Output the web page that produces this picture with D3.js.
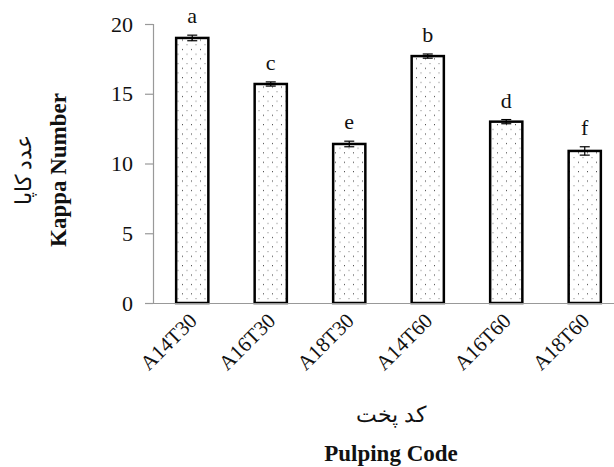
<!DOCTYPE html>
<html><head><meta charset="utf-8">
<script src="https://cdn.jsdelivr.net/npm/d3@7"></script>
<style>body{margin:0;background:#fff}svg{display:block}text{font-family:"Liberation Serif","Times New Roman",serif}</style>
</head><body>
<svg id="c" width="614" height="467"></svg>
<script>
const categories = ["A14T30","A16T30","A18T30","A14T60","A16T60","A18T60"];
const values = [19.0, 15.7, 11.4, 17.7, 13.0, 10.9];
const errors = [0.2, 0.15, 0.2, 0.15, 0.15, 0.3];
const letters = ["a","c","e","b","d","f"];
const yTicks = [0,5,10,15,20];

const svg = d3.select("#c");
const x = d3.scaleBand().domain(categories).range([153, 624]).paddingInner(0.59).paddingOuter(0.295);
const y = d3.scaleLinear().domain([0,20]).range([303, 24]);

const defs = svg.append("defs");
const pat = defs.append("pattern").attr("id","dots").attr("patternUnits","userSpaceOnUse")
  .attr("width",9).attr("height",9.4);
pat.append("rect").attr("width",9).attr("height",9.4).attr("fill","#fff");
pat.append("rect").attr("x",2).attr("y",2).attr("width",1).attr("height",1).attr("fill","#333");
pat.append("rect").attr("x",6.5).attr("y",6.7).attr("width",1).attr("height",1).attr("fill","#777");

// y axis
const yAxis = svg.append("g").attr("transform","translate(153,0)")
  .call(d3.axisLeft(y).tickValues(yTicks).tickSize(8).tickPadding(12));
yAxis.select(".domain").attr("stroke","#999").attr("stroke-width",1.2).attr("d","M-8,24.5H0.5V303.5");
yAxis.selectAll(".tick line").attr("stroke","#999").attr("stroke-width",1.2);
yAxis.selectAll(".tick text").attr("font-size",22).attr("fill","#111");

// bars
svg.append("g").selectAll("rect").data(categories).join("rect")
  .attr("x", d => x(d)).attr("width", x.bandwidth())
  .attr("y", (d,i) => y(values[i])).attr("height", (d,i) => y(0) - y(values[i]))
  .attr("fill","url(#dots)").attr("stroke","#000").attr("stroke-width",2.5);

// x axis line
svg.append("line").attr("x1",153).attr("x2",614).attr("y1",303.5).attr("y2",303.5)
  .attr("stroke","#999").attr("stroke-width",1.2);

// error bars
const eb = svg.append("g").attr("stroke","#000").attr("stroke-width",1.2);
categories.forEach((c,i) => {
  const cx = x(c) + x.bandwidth()/2;
  eb.append("line").attr("x1",cx).attr("x2",cx).attr("y1",y(values[i]+errors[i])).attr("y2",y(values[i]-errors[i]));
  eb.append("line").attr("x1",cx-5).attr("x2",cx+5).attr("y1",y(values[i]+errors[i])).attr("y2",y(values[i]+errors[i]));
  eb.append("line").attr("x1",cx-5).attr("x2",cx+5).attr("y1",y(values[i]-errors[i])).attr("y2",y(values[i]-errors[i]));
});

// letters
svg.append("g").selectAll("text").data(categories).join("text")
  .attr("x", d => x(d) + x.bandwidth()/2)
  .attr("y", (d,i) => y(values[i]+errors[i]) - 12)
  .attr("text-anchor","middle").attr("font-size",22).attr("fill","#111")
  .text((d,i) => letters[i]);

// x tick labels
svg.append("g").selectAll("text").data(categories).join("text")
  .attr("transform", d => `translate(${x(d) + x.bandwidth()/2 + 6},${322}) rotate(-45)`)
  .attr("text-anchor","end").attr("font-size",21).attr("fill","#111")
  .text(d => d);

// axis titles
svg.append("text").attr("x",391).attr("y",422).attr("text-anchor","middle")
  .attr("font-size",22).attr("fill","#111").attr("direction","rtl").text("کد پخت");
svg.append("text").attr("x",391).attr("y",461).attr("text-anchor","middle")
  .attr("font-size",23).attr("font-weight","bold").attr("fill","#111").text("Pulping Code");
svg.append("text").attr("transform","translate(66,170) rotate(-90)").attr("text-anchor","middle")
  .attr("font-size",23).attr("font-weight","bold").attr("fill","#111").text("Kappa Number");
svg.append("text").attr("transform","translate(31,170) rotate(-90)").attr("text-anchor","middle")
  .attr("font-size",22).attr("fill","#111").attr("direction","rtl").text("عدد کاپا");
</script>
</body></html>
